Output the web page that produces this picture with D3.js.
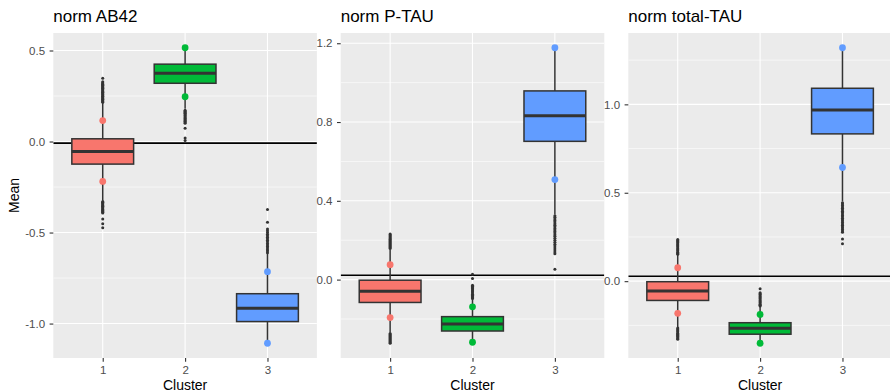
<!DOCTYPE html>
<html>
<head>
<meta charset="utf-8">
<script src="https://cdnjs.cloudflare.com/ajax/libs/d3/7.8.5/d3.min.js"></script>
<style>
  body { margin: 0; background: #fff; }
  text { font-family: "Liberation Sans", Arial, sans-serif; }
</style>
</head>
<body>
<svg id="chart" width="890" height="392"></svg>
<script>
// categories and panel titles
const clusters = ["1", "2", "3"];
const panelTitles = ["norm AB42", "norm P-TAU", "norm total-TAU"];
const fills = ["#F8766D", "#00BA38", "#619CFF"];

// box stats per cluster: [lower whisker, q1, median, q3, upper whisker]
const ab42Boxes = [
  [-0.325, -0.124, -0.055, 0.015, 0.212],
  [0.180, 0.320, 0.375, 0.425, 0.505],
  [-1.100, -0.989, -0.916, -0.836, -0.615]
];
const ptauBoxes = [
  [-0.268, -0.116, -0.059, -0.003, 0.152],
  [-0.310, -0.261, -0.225, -0.188, -0.100],
  [0.330, 0.702, 0.832, 0.958, 1.170]
];
const ttauBoxes = [
  [-0.260, -0.109, -0.056, -0.003, 0.148],
  [-0.345, -0.300, -0.267, -0.235, -0.145],
  [0.450, 0.833, 0.968, 1.091, 1.315]
];

// outliers per cluster
const ab42Outliers = [
  [0.347, 0.328, 0.323, 0.318, 0.314, 0.309, 0.305, 0.301, 0.297, 0.292, 0.288, 0.284, 0.279, 0.275,
   0.271, 0.266, 0.262, 0.258, 0.253, 0.249, 0.245, 0.241, 0.236, 0.232, 0.228, 0.224, 0.220, 0.216,
   -0.330, -0.334, -0.338, -0.342, -0.347, -0.351, -0.355, -0.360, -0.364, -0.369, -0.373, -0.378,
   -0.383, -0.388, -0.392, -0.425, -0.452, -0.474],
  [0.172, 0.166, 0.161, 0.156, 0.151, 0.146, 0.141, 0.136, 0.131, 0.126, 0.121, 0.116, 0.111, 0.105,
   0.100, 0.073, 0.019, 0.006],
  [-0.611, -0.602, -0.594, -0.585, -0.577, -0.568, -0.560, -0.551, -0.543, -0.534, -0.526, -0.517,
   -0.509, -0.500, -0.490, -0.480, -0.443, -0.374]
];
const ptauOutliers = [
  [0.158, 0.163, 0.168, 0.173, 0.178, 0.183, 0.188, 0.193, 0.198, 0.203, 0.208, 0.213, 0.218, 0.223,
   0.228, 0.232, -0.274, -0.279, -0.284, -0.289, -0.294, -0.299, -0.304, -0.309, -0.314, -0.319, -0.323],
  [-0.096, -0.091, -0.086, -0.080, -0.074, -0.068, -0.062, -0.057, -0.051, -0.045, -0.040, -0.034,
   -0.029, 0.005, 0.027],
  [0.324, 0.316, 0.308, 0.300, 0.292, 0.284, 0.276, 0.268, 0.260, 0.252, 0.244, 0.236, 0.228, 0.220,
   0.210, 0.200, 0.190, 0.180, 0.170, 0.160, 0.150, 0.140, 0.131, 0.052]
];
const ttauOutliers = [
  [0.152, 0.158, 0.164, 0.170, 0.176, 0.182, 0.188, 0.194, 0.200, 0.206, 0.212, 0.218, 0.224, 0.230,
   0.235, -0.265, -0.270, -0.276, -0.282, -0.288, -0.294, -0.300, -0.306, -0.312, -0.318, -0.324, -0.329],
  [-0.141, -0.136, -0.130, -0.124, -0.118, -0.112, -0.106, -0.100, -0.094, -0.088, -0.082, -0.076,
   -0.071, -0.066, -0.043],
  [0.443, 0.436, 0.428, 0.420, 0.412, 0.404, 0.396, 0.388, 0.380, 0.372, 0.364, 0.356, 0.348, 0.340,
   0.332, 0.324, 0.316, 0.308, 0.300, 0.292, 0.284, 0.276, 0.239, 0.211]
];

// coloured points per cluster
const ab42Points = [[0.115, -0.219], [0.515, 0.246], [-0.715, -1.108]];
const ptauPoints = [[0.076, -0.193], [-0.138, -0.318], [1.177, 0.508]];
const ttauPoints = [[0.076, -0.182], [-0.188, -0.351], [1.320, 0.643]];

// reference lines
const refLines = [-0.009, 0.022, 0.028];

// tick values
const ab42Ticks = [-1.0, -0.5, 0.0, 0.5];
const ab42Minor = [-0.75, -0.25, 0.25];
const ptauTicks = [0.0, 0.4, 0.8, 1.2];
const ptauMinor = [-0.2, 0.2, 0.6, 1.0];
const ttauTicks = [0.0, 0.5, 1.0];
const ttauMinor = [-0.25, 0.25, 0.75, 1.25];

const panels = [
  { boxes: ab42Boxes, outliers: ab42Outliers, points: ab42Points, ticks: ab42Ticks, minor: ab42Minor },
  { boxes: ptauBoxes, outliers: ptauOutliers, points: ptauPoints, ticks: ptauTicks, minor: ptauMinor },
  { boxes: ttauBoxes, outliers: ttauOutliers, points: ttauPoints, ticks: ttauTicks, minor: ttauMinor }
];

const svg = d3.select("#chart");
const plotTop = 33, plotBottom = 358, pw = 263.6;
const lefts = [53.3, 340.7, 628.3];
const fmt = d => d.toFixed(1);

panels.forEach((p, i) => {
  const x0 = lefts[i];
  const all = p.boxes.flat().concat(p.outliers.flat(), p.points.flat());
  const [mn, mx] = d3.extent(all);
  const pad = (mx - mn) * 0.05;
  const y = d3.scaleLinear().domain([mn - pad, mx + pad]).range([plotBottom, plotTop]);
  const x = d3.scalePoint().domain(clusters).range([x0, x0 + pw]).padding(0.6);
  const bw = x.step() * 0.75;

  const g = svg.append("g");
  const clipId = "clip" + i;
  svg.append("clipPath").attr("id", clipId)
    .append("rect").attr("x", x0).attr("y", plotTop).attr("width", pw).attr("height", plotBottom - plotTop);

  g.append("rect").attr("x", x0).attr("y", plotTop).attr("width", pw).attr("height", plotBottom - plotTop)
    .attr("fill", "#EBEBEB");

  const plot = g.append("g").attr("clip-path", `url(#${clipId})`);

  // grid
  plot.selectAll(".minor").data(p.minor).join("line")
    .attr("x1", x0).attr("x2", x0 + pw)
    .attr("y1", d => y(d)).attr("y2", d => y(d))
    .attr("stroke", "#fff").attr("stroke-width", 0.6);
  plot.selectAll(".major").data(p.ticks).join("line")
    .attr("x1", x0).attr("x2", x0 + pw)
    .attr("y1", d => y(d)).attr("y2", d => y(d))
    .attr("stroke", "#fff").attr("stroke-width", 1.1);
  plot.selectAll(".vgrid").data(clusters).join("line")
    .attr("x1", d => x(d)).attr("x2", d => x(d))
    .attr("y1", plotTop).attr("y2", plotBottom)
    .attr("stroke", "#fff").attr("stroke-width", 1.1);

  // reference line
  plot.append("line")
    .attr("x1", x0).attr("x2", x0 + pw)
    .attr("y1", y(refLines[i])).attr("y2", y(refLines[i]))
    .attr("stroke", "#000").attr("stroke-width", 1.6);

  clusters.forEach((c, j) => {
    const [lo, q1, med, q3, hi] = p.boxes[j];
    const cx = x(c);
    // outliers
    plot.selectAll(null).data(p.outliers[j]).join("circle")
      .attr("cx", cx).attr("cy", d => y(d)).attr("r", 1.5).attr("fill", "#333333");
    // whiskers
    plot.append("line").attr("x1", cx).attr("x2", cx).attr("y1", y(q3)).attr("y2", y(hi))
      .attr("stroke", "#333333").attr("stroke-width", 1.5);
    plot.append("line").attr("x1", cx).attr("x2", cx).attr("y1", y(q1)).attr("y2", y(lo))
      .attr("stroke", "#333333").attr("stroke-width", 1.5);
    // box
    plot.append("rect").attr("x", cx - bw / 2).attr("width", bw)
      .attr("y", y(q3)).attr("height", y(q1) - y(q3))
      .attr("fill", fills[j]).attr("stroke", "#333333").attr("stroke-width", 1.5);
    plot.append("line").attr("x1", cx - bw / 2).attr("x2", cx + bw / 2)
      .attr("y1", y(med)).attr("y2", y(med))
      .attr("stroke", "#333333").attr("stroke-width", 3);
  });

  // coloured points
  clusters.forEach((c, j) => {
    plot.selectAll(null).data(p.points[j]).join("circle")
      .attr("cx", x(c)).attr("cy", d => y(d)).attr("r", 3.4).attr("fill", fills[j]);
  });

  // axes
  const ya = g.append("g").attr("transform", `translate(${x0},0)`)
    .call(d3.axisLeft(y).tickValues(p.ticks).tickFormat(fmt).tickSize(3.7).tickPadding(4.5));
  const xa = g.append("g").attr("transform", `translate(0,${plotBottom})`)
    .call(d3.axisBottom(x).tickSize(3.7).tickPadding(4.1));
  [ya, xa].forEach(a => {
    a.select(".domain").remove();
    a.selectAll(".tick line").attr("stroke", "#333333").attr("stroke-width", 1.1);
    a.selectAll(".tick text").attr("fill", "#4D4D4D").style("font-size", "11.5px")
      .style("font-family", '"Liberation Sans", Arial, sans-serif');
  });

  // titles
  g.append("text").attr("x", x0).attr("y", 22).text(panelTitles[i])
    .style("font-size", "17px").attr("fill", "#000");
  g.append("text").attr("x", x0 + pw / 2).attr("y", 390).attr("text-anchor", "middle")
    .text("Cluster").style("font-size", "14px").attr("fill", "#000");
});

svg.append("text").attr("transform", `translate(19,${(plotTop + plotBottom) / 2}) rotate(-90)`)
  .attr("text-anchor", "middle").text("Mean").style("font-size", "14px").attr("fill", "#000");
</script>
</body>
</html>
